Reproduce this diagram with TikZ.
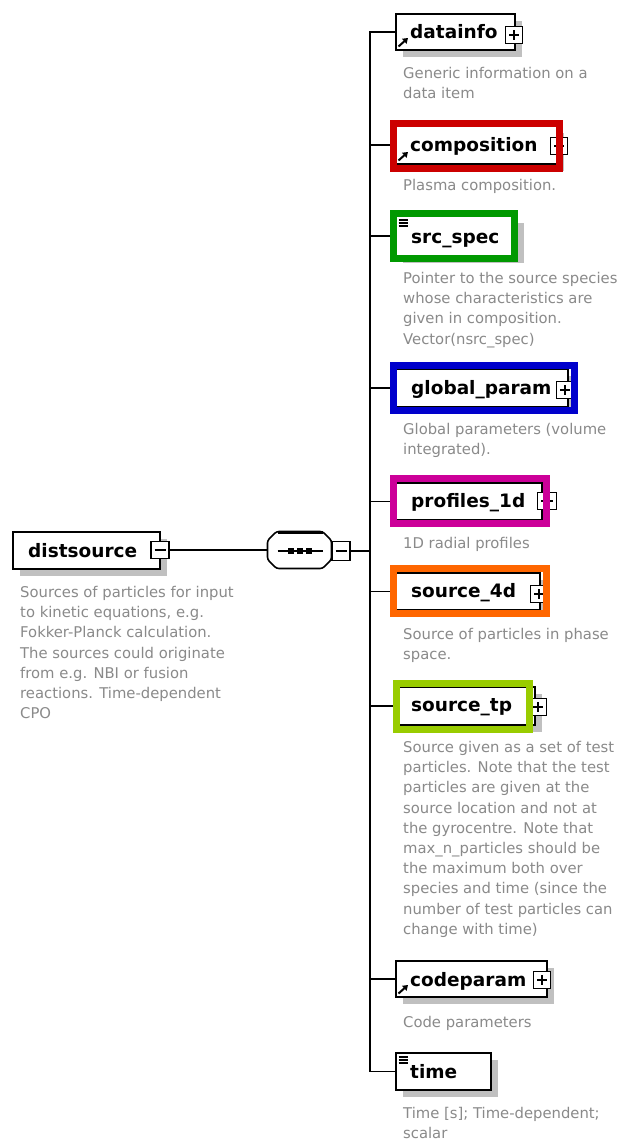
\documentclass[tikz,border=0pt]{standalone}
\usepackage{fontspec}
\setmainfont{DejaVu Sans}
\usetikzlibrary{shapes.misc,shadows,arrows.meta}
\definecolor{descgray}{RGB}{138,138,138}
\definecolor{shadowgray}{RGB}{192,192,192}
\definecolor{hlred}{RGB}{204,0,0}
\definecolor{hlgreen}{RGB}{0,153,0}
\definecolor{hlblue}{RGB}{0,0,204}
\definecolor{hlmagenta}{RGB}{204,0,153}
\definecolor{hlorange}{RGB}{255,102,0}
\definecolor{hllime}{RGB}{153,204,0}
\tikzset{
  boxshadow/.style={drop shadow={shadow xshift=7pt,shadow yshift=-7pt,fill=shadowgray,opacity=1}},
  elem/.style={draw=black, line width=1.6pt, fill=white, anchor=north west, inner sep=0pt, outer sep=0pt, boxshadow},
  pmbox/.style={draw=black, line width=1.3pt, fill=white, minimum width=17pt, minimum height=17pt, inner sep=0pt, outer sep=0pt},
  plusbox/.style={pmbox, path picture={
      \draw[line width=1.3pt] ([xshift=3.5pt]path picture bounding box.west) -- ([xshift=-3.5pt]path picture bounding box.east);
      \draw[line width=1.3pt] ([yshift=-3.5pt]path picture bounding box.north) -- ([yshift=3.5pt]path picture bounding box.south);}},
  minusbox/.style={pmbox, path picture={
      \draw[line width=1.3pt] ([xshift=3.5pt]path picture bounding box.west) -- ([xshift=-3.5pt]path picture bounding box.east);}},
  conn/.style={line width=1.6pt, line cap=rect},
  hl/.style={line width=7pt},
  lbl/.style={anchor=base west, inner sep=0pt, font=\fontsize{18.5}{22}\selectfont\bfseries},
  desc/.style={anchor=north west, inner sep=0pt, align=left, text=descgray,
    font=\fontsize{14.8}{20.2}\selectfont, execute at begin node={\rule{0pt}{12pt}}},
  refarrow/.style={line width=2pt, -{Triangle[length=5pt,width=6.5pt]}},
  iconline/.style={line width=1.1pt},
  seqpath/.style={rounded corners=2.5pt},
}
\begin{document}
\begin{tikzpicture}[x=1pt,y=-1pt]
\useasboundingbox[fill=white] (0,0) rectangle (624,1143);

% element boxes
\node[elem, minimum width=147pt, minimum height=37pt] (distsource) at (13,532) {};
\node[elem, minimum width=119pt, minimum height=36pt] (datainfo) at (396,14) {};
\node[elem, minimum width=161pt, minimum height=38pt] (composition) at (396,126) {};
\node[elem, minimum width=121pt, minimum height=40pt] (srcspec) at (396,216) {};
\node[elem, minimum width=172pt, minimum height=38pt] (globalparam) at (396,369) {};
\node[elem, minimum width=146pt, minimum height=37pt] (profiles) at (396,483) {};
\node[elem, minimum width=144pt, minimum height=37pt] (source4d) at (396,573) {};
\node[elem, minimum width=137pt, minimum height=38pt] (sourcetp) at (398,687) {};
\node[elem, minimum width=151pt, minimum height=36pt] (codeparam) at (396,961) {};
\node[elem, minimum width=95pt, minimum height=37pt] (time) at (396,1053) {};

% sequence compositor
\node[minimum width=64pt, minimum height=37pt, inner sep=0pt, outer sep=0pt] (seq) at (299.5,550) {};
\begin{scope}[shift={(5,5)}]
\fill[shadowgray, seqpath] ([shift={(9,0)}]seq.north west) -- ([shift={(-9,0)}]seq.north east) -- ([shift={(0,9)}]seq.north east) -- ([shift={(0,-9)}]seq.south east) -- ([shift={(-9,0)}]seq.south east) -- ([shift={(9,0)}]seq.south west) -- ([shift={(0,-9)}]seq.south west) -- ([shift={(0,9)}]seq.north west) -- cycle;
\end{scope}
\draw[line width=1.6pt, fill=white, seqpath] ([shift={(9,0)}]seq.north west) -- ([shift={(-9,0)}]seq.north east) -- ([shift={(0,9)}]seq.north east) -- ([shift={(0,-9)}]seq.south east) -- ([shift={(-9,0)}]seq.south east) -- ([shift={(9,0)}]seq.south west) -- ([shift={(0,-9)}]seq.south west) -- ([shift={(0,9)}]seq.north west) -- cycle;
\draw[line width=3pt] ([shift={(10,0.7)}]seq.north west) -- ([shift={(-9,0.7)}]seq.north east);
\draw[line width=1.3pt] ([xshift=-22pt,yshift=-1pt]seq.center) -- ([xshift=23pt,yshift=-1pt]seq.center);
\foreach \dx in {-8.5,0.5,9.5}
  \fill ([xshift=\dx pt,yshift=-1pt]seq.center) +(-3,-3) rectangle +(3,3);

% plus / minus boxes
\node[minusbox, minimum width=18pt, minimum height=17pt] (distm) at (160,550) {};
\node[minusbox, minimum width=18pt, minimum height=19pt] (seqm) at (341,551) {};
\node[plusbox] (datainfop) at (514,35) {};
\node[plusbox] (compositionp) at (559,146) {};
\node[plusbox] (globalparamp) at (565,390) {};
\node[plusbox, minimum width=19pt] (profilesp) at (547,501) {};
\node[plusbox] (source4dp) at (539,594) {};
\node[plusbox] (sourcetpp) at (538,707) {};
\node[plusbox] (codeparamp) at (542,980) {};

% connectors
\coordinate (bus) at (370,550);
\draw[conn] (distm.east) -- (seq.west);
\draw[conn] (seqm.east) -- (seqm.east -| bus);
\draw[conn] (datainfo.west -| bus) -- (time.west -| bus);
\foreach \n in {datainfo,composition,srcspec,globalparam,profiles,source4d,sourcetp,codeparam,time}
  \draw[conn] (\n.west -| bus) -- (\n.west);

% highlight frames
\draw[hl, hlred] (393.5,123.5) rectangle (559.5,168.5);
\draw[hl, hlgreen] (393.5,213.5) rectangle (514.5,258.5);
\draw[hl, hlblue] (393.5,365.5) rectangle (574.5,410.5);
\draw[hl, hlmagenta] (393.5,478.5) rectangle (546.5,523.5);
\draw[hl, hlorange] (393.5,568.5) rectangle (546.5,613.5);
\draw[hl, hllime] (396.5,683.5) rectangle (529.5,729.5);

% icons
\foreach \n in {datainfo,composition,codeparam}
  \draw[refarrow] ([shift={(2.5,-3.5)}]\n.south west) -- ++(9.5,-8.5);
\foreach \n in {srcspec,time}
  \foreach \d in {4,7,10}
    \draw[iconline] ([shift={(2.5,\d)}]\n.north west) -- ++(9,0);

% labels
\node[lbl] (distsource-t) at (28,557) {distsource};
\node[lbl] (datainfo-t) at (410,38) {datainfo};
\node[lbl] (composition-t) at (410,151) {composition};
\node[lbl] (srcspec-t) at (411,243) {src\_spec};
\node[lbl] (globalparam-t) at (411,394) {global\_param};
\node[lbl] (profiles-t) at (411,507) {profiles\_1d};
\node[lbl] (source4d-t) at (411,597) {source\_4d};
\node[lbl] (sourcetp-t) at (411,711) {source\_tp};
\node[lbl] (codeparam-t) at (410,986) {codeparam};
\node[lbl] (time-t) at (410,1078) {time};

% descriptions
\node[desc] (distsource-d) at (20,586) {Sources of particles for input\\to kinetic equations, e.g.\\Fokker-Planck calculation.\\The sources could originate\\from e.g. NBI or fusion\\reactions. Time-dependent\\CPO};
\node[desc] (datainfo-d) at (403,67) {Generic information on a\\data item};
\node[desc] (composition-d) at (403,178) {Plasma composition.};
\node[desc] (srcspec-d) at (403,272) {Pointer to the source species\\whose characteristics are\\given in composition.\\Vector(nsrc\_spec)};
\node[desc] (globalparam-d) at (403,423) {Global parameters (volume\\integrated).};
\node[desc] (profiles-d) at (403,536) {1D radial profiles};
\node[desc] (source4d-d) at (403,628) {Source of particles in phase\\space.};
\node[desc] (sourcetp-d) at (403,741) {Source given as a set of test\\particles. Note that the test\\particles are given at the\\source location and not at\\the gyrocentre. Note that\\max\_n\_particles should be\\the maximum both over\\species and time (since the\\number of test particles can\\change with time)};
\node[desc] (codeparam-d) at (403,1015) {Code parameters};
\node[desc] (time-d) at (403,1107) {Time [s]; Time-dependent;\\scalar};
\end{tikzpicture}
\end{document}
